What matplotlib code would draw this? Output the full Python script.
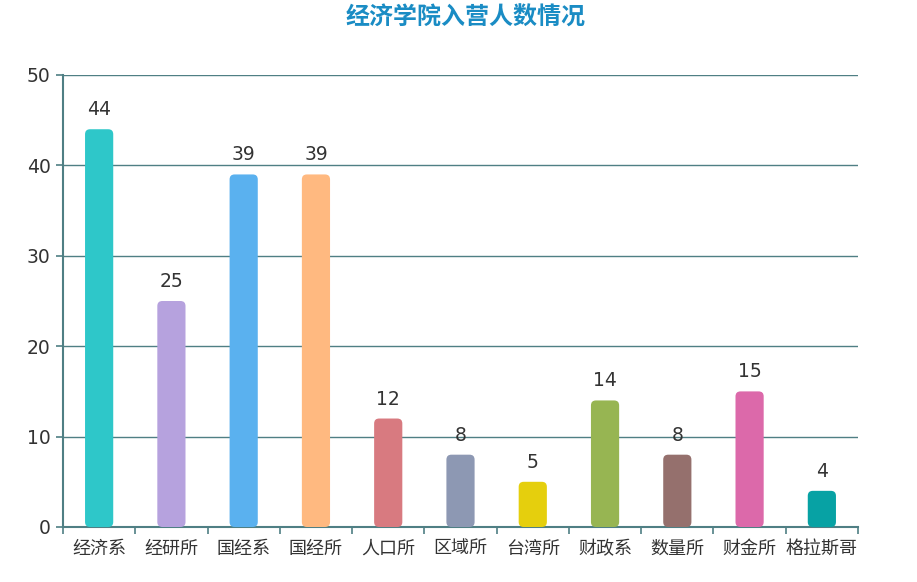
import matplotlib
matplotlib.use("Agg")
import matplotlib.pyplot as plt
from matplotlib.patches import FancyBboxPatch
from matplotlib.transforms import blended_transform_factory

plt.rcParams['font.family'] = ['Noto Sans CJK SC', 'DejaVu Sans']

categories = ['经济系', '经研所', '国经系', '国经所', '人口所', '区域所', '台湾所', '财政系', '数量所', '财金所', '格拉斯哥']
values = [44, 25, 39, 39, 12, 8, 5, 14, 8, 15, 4]
colors = ['#2ec7c9', '#b6a2de', '#5ab1ef', '#ffb980', '#d87a80', '#8d98b3',
          '#e5cf0d', '#97b552', '#95706d', '#dc69aa', '#07a2a4']
title = '经济学院入营人数情况'
yticks = [0, 10, 20, 30, 40, 50]

W, H = 917, 582
fig = plt.figure(figsize=(W/100, H/100), dpi=100)
ax = fig.add_axes([63/W, 1-527/H, (858-63)/W, (527-75)/H])

axis_color = '#4f7f84'
n = len(categories)
ax.set_xlim(-0.5, n - 0.5)
ax.set_ylim(0, 50)

bw = 0.39
bars = ax.bar(range(n), values, width=bw, color=colors, zorder=3)
# replace with rounded bars
px_per_x = (858-63) / n
px_per_y = (527-75) / 50
r_px = 5
for b, c in zip(bars, colors):
    x, y = b.get_x(), b.get_y()
    w, h = b.get_width(), b.get_height()
    b.set_visible(False)
    p = FancyBboxPatch((x, y), w, h,
                       boxstyle=f"round,pad=0,rounding_size={r_px/px_per_x}",
                       mutation_aspect=px_per_x/px_per_y,
                       facecolor=c, edgecolor='none', zorder=3)
    ax.add_patch(p)

for i, v in enumerate(values):
    ax.text(i, v + 1.1, str(v), ha='center', va='bottom', fontsize=13.5,
            color='#333333', family=['DejaVu Sans'])

ax.set_yticks(yticks)
ax.set_yticklabels([str(t) for t in yticks], fontsize=13.5, color='#333333',
                   family=['DejaVu Sans'])
ax.set_xticks(range(n))
ax.set_xticklabels([])
trans = blended_transform_factory(ax.transData, fig.transFigure)
for i, c in enumerate(categories):
    ax.text(i, 1 - 554/H, c, transform=trans, ha='center', va='baseline',
            fontsize=13, color='#333333')
ax.set_xticks([i - 0.5 for i in range(n + 1)], minor=True)
ax.tick_params(axis='x', which='major', length=0)
ax.tick_params(axis='x', which='minor', length=5, color=axis_color, width=1.2)
ax.tick_params(axis='y', length=5, color=axis_color, width=1.2, pad=4)

ax.grid(axis='y', color=axis_color, linewidth=1.0, zorder=0)
ax.set_axisbelow(True)
for s in ['top', 'right']:
    ax.spines[s].set_visible(False)
for s in ['left', 'bottom']:
    ax.spines[s].set_color(axis_color)
    ax.spines[s].set_linewidth(1.5)

fig.text(466/W, 1 - 18/H, title, ha='center', va='center', fontsize=17.3,
         fontweight='bold', color='#1a8cc4')

fig.savefig('out.png', dpi=100)
